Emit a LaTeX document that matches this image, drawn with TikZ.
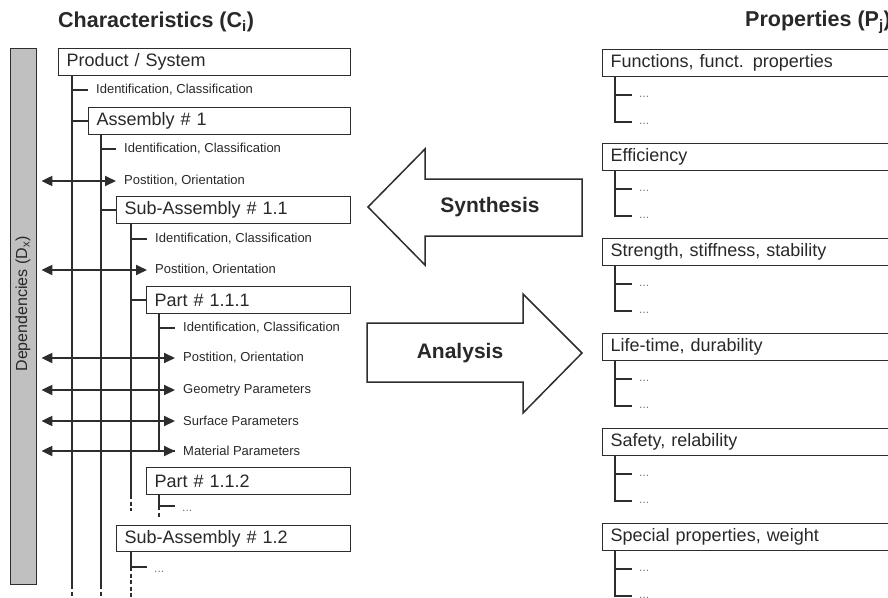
\documentclass[tikz,border=0pt]{standalone}
\usepackage{fontspec}
\setmainfont{Liberation Sans}
\setsansfont{Liberation Sans}
\usetikzlibrary{arrows.meta}
\definecolor{linec}{RGB}{45,45,45}
\definecolor{textc}{RGB}{40,40,40}
\definecolor{barc}{RGB}{192,192,192}
\definecolor{dotc}{RGB}{120,120,120}

\begin{document}
\begin{tikzpicture}[x=1pt, y=-1pt,
	box/.style={draw=linec, line width=1.4pt, anchor=north west, minimum height=27pt, inner xsep=8pt, inner ysep=0pt, text width=#1, align=left, text=textc, font=\fontsize{18}{18}\selectfont},
	item/.style={anchor=west, inner xsep=8pt, inner ysep=0pt, text=textc, font=\fontsize{13}{13}\selectfont},
	more/.style={anchor=west, inner xsep=7pt, inner ysep=0pt, text height=#1, text depth=0pt, text=dotc, font=\fontsize{12}{12}\selectfont},
	trunk/.style={draw=linec, line width=1.8pt},
	goon/.style={trunk, dash pattern=on 4pt off 2.5pt},
	dep/.style={draw=linec, line width=2pt, {Triangle[length=11pt,width=10pt]}-{Triangle[length=11pt,width=10pt]}, shorten <=4pt},
	bigarrow/.style={draw=linec, line width=1.5pt, fill=white, line join=miter},
	title/.style={anchor=west, inner sep=0pt, text=textc, font=\fontsize{21.5}{21.5}\selectfont\bfseries}
]
\clip (0,0) rectangle (888,597);

\node[title] (chartitle) at (58,22) {Characteristics (C\textsubscript{i})};
\node[title] (proptitle) at (745,22) {Properties (P\textsubscript{j})};

% dependencies bar
\node[draw=linec, line width=1.4pt, fill=barc, anchor=north west, minimum width=26pt, minimum height=536pt, inner sep=0pt] (depbar) at (10,48) {};
\node[rotate=90, inner sep=0pt, text=textc, font=\fontsize{16}{16}\selectfont] (deplabel) at (23,304) {Dependencies (D\textsubscript{x})};

% characteristics tree
\node[box=276pt] (prod) at (58,48) {Product / System};
\node[item] (id1) at (88,90) {Identification, Classification};
\node[box=246pt] (asm1) at (88,107) {Assembly \# 1};
\node[item] (id2) at (116,149) {Identification, Classification};
\node[item] (pos2) at (116,181) {Postition, Orientation};
\node[box=218pt] (sub11) at (116,196) {Sub-Assembly \# 1.1};
\node[item] (id3) at (147,239) {Identification, Classification};
\node[item] (pos3) at (147,270) {Postition, Orientation};
\node[box=188pt] (part111) at (146,286) {Part \# 1.1.1};
\node[item] (id4) at (175,328) {Identification, Classification};
\node[item] (pos4) at (175,358) {Postition, Orientation};
\node[item] (geo) at (175,390) {Geometry Parameters};
\node[item] (surf) at (175,421) {Surface Parameters};
\node[item] (mat) at (175,451) {Material Parameters};
\node[box=188pt] (part112) at (146,467) {Part \# 1.1.2};
\node[more=11pt] (more112) at (175,506) {...};
\node[box=218pt, minimum height=26pt] (sub12) at (116,525) {Sub-Assembly \# 1.2};
\node[more=11pt] (more12) at (147,567) {...};

\coordinate (t1end) at (72,585);
\coordinate (t1bot) at (72,600);
\coordinate (t2end) at (101,585);
\coordinate (t2bot) at (101,600);
\coordinate (t3end) at (131,495);
\coordinate (t3bot) at (131,511);

\draw[trunk] ([xshift=14pt]prod.south west) -- (t1end);
\draw[goon] (t1end) -- (t1bot);
\draw[trunk] (t1end |- id1.west) -- (id1.west);
\draw[trunk] (t1end |- asm1.west) -- (asm1.west);

\draw[trunk] ([xshift=13pt]asm1.south west) -- (t2end);
\draw[goon] (t2end) -- (t2bot);
\draw[trunk] (t2end |- id2.west) -- (id2.west);
\draw[trunk] (t2end |- sub11.west) -- (sub11.west);

\draw[trunk] ([xshift=15pt]sub11.south west) -- (t3end);
\draw[goon] (t3end) -- (t3bot);
\draw[trunk] (t3end |- id3.west) -- (id3.west);
\draw[trunk] (t3end |- part111.west) -- (part111.west);

\draw[trunk] ([xshift=13pt]part111.south west) |- (mat.west);
\draw[trunk] ([xshift=13pt]part111.south west |- id4.west) -- (id4.west);

\draw[trunk] ([xshift=13pt]part112.south west) |- (more112.west);
\draw[goon] ([xshift=13pt]part112.south west |- more112.west) -- ++(0,11);

\draw[trunk] ([xshift=15pt]sub12.south west) |- (more12.west);
\draw[goon] ([xshift=15pt]sub12.south west |- more12.west) -- ([xshift=15pt]sub12.south west |- t1bot);

% dependencies
\draw[dep] (depbar.east |- pos2.west) -- (pos2.west);
\draw[dep] (depbar.east |- pos3.west) -- (pos3.west);
\draw[dep] (depbar.east |- pos4.west) -- (pos4.west);
\draw[dep] (depbar.east |- geo.west) -- (geo.west);
\draw[dep] (depbar.east |- surf.west) -- (surf.west);
\draw[dep] (depbar.east |- mat.west) -- (mat.west);

% synthesis / analysis
\draw[bigarrow] (368,207) -- (425,149) -- (425,179) -- (582,179) -- (582,236) -- (425,236) -- (425,265) -- cycle;
\node[inner sep=0pt, text=textc, font=\fontsize{21}{21}\selectfont\bfseries] (synth) at (490,207) {Synthesis};
\draw[bigarrow] (367,323) -- (523,323) -- (523,294) -- (582,353) -- (523,413) -- (523,382) -- (367,382) -- cycle;
\node[inner sep=0pt, text=textc, font=\fontsize{21}{21}\selectfont\bfseries] (anal) at (460,353) {Analysis};

% properties
\foreach \ytop/\name [count=\i] in {49/{Functions, funct. properties}, 143/Efficiency, 238/{Strength, stiffness, stability}, 333/{Life-time, durability}, 428/{Safety, relability}, 523/{Special properties, weight}} {
	\node[box=284pt] (prop\i) at (602,\ytop) {\name};
	\node[more=4pt] (prop\i-a) at (632,\ytop+46) {...};
	\node[more=4pt] (prop\i-b) at (632,\ytop+73) {...};
	\draw[trunk] ([xshift=13pt]prop\i.south west) |- (prop\i-b.west);
	\draw[trunk] ([xshift=13pt]prop\i.south west |- prop\i-a.west) -- (prop\i-a.west);
}

\end{tikzpicture}
\end{document}
